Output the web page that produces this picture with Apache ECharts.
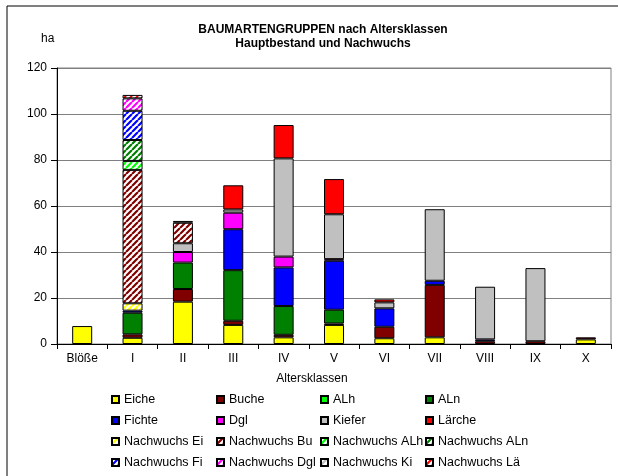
<!DOCTYPE html>
<html>
<head>
<meta charset="utf-8">
<script src="https://cdn.jsdelivr.net/npm/echarts@6/dist/echarts.min.js"></script>
<style>
  html, body { margin: 0; padding: 0; background: #fff; }
  #chart { width: 618px; height: 476px; }
</style>
</head>
<body>
<div id="chart"></div>
<script>
const categories = ["Blöße", "I", "II", "III", "IV", "V", "VI", "VII", "VIII", "IX", "X"];
const yTicks = [0, 20, 40, 60, 80, 100, 120];

// Hauptbestand (ha)
const eiche  = [7.8, 2.7, 18.4, 8.3, 2.9, 8.3, 2.5, 2.9, null, null, 2.0];
const buche  = [null, 1.5, 5.5, 1.8, 1.1, 0.6, 5.0, 22.8, 1.2, 1.2, 0.9];
const alh    = [null, null, null, null, null, null, null, null, null, null, null];
const aln    = [null, 9.4, 11.5, 22.0, 12.5, 6.0, null, null, null, null, null];
const fichte = [null, 0.9, null, 17.8, 16.8, 21.3, 8.0, 1.8, 0.8, null, null];
const dgl    = [null, null, 4.6, 7.2, 4.7, 0.7, null, null, null, null, null];
const kiefer = [null, null, 3.8, 1.4, 42.7, 19.5, 2.6, 31.1, 22.9, 31.8, null];
const laerche = [null, null, null, 10.5, 14.5, 15.3, 1.3, null, null, null, null];

// Nachwuchs (ha)
const nwEi  = [null, 3.2, null, null, null, null, null, null, null, null, null];
const nwBu  = [null, 58.0, 8.9, null, null, null, null, null, null, null, null];
const nwAlh = [null, 3.9, null, null, null, null, null, null, null, null, null];
const nwAln = [null, 9.1, null, null, null, null, null, null, null, null, null];
const nwFi  = [null, 12.7, null, null, null, null, null, null, null, null, null];
const nwDgl = [null, 5.4, null, null, null, null, null, null, null, null, null];
const nwKi  = [null, null, 0.8, null, null, null, null, null, null, null, null];
const nwLae = [null, 1.5, null, null, null, null, null, null, null, null, null];

const font = "Liberation Sans, Arial, sans-serif";

function hatch(color) {
  const c = document.createElement("canvas");
  c.width = 6;
  c.height = 6;
  const g = c.getContext("2d");
  g.fillStyle = "#fff";
  g.fillRect(0, 0, 6, 6);
  g.strokeStyle = color;
  g.lineWidth = 2.2;
  g.beginPath();
  for (const o of [-6, 0, 6]) {
    g.moveTo(o, 6);
    g.lineTo(o + 6, 0);
  }
  g.stroke();
  return { image: c, repeat: "repeat" };
}

const seriesDefs = [
  ["Eiche", eiche, "#FFFF00"],
  ["Buche", buche, "#800000"],
  ["ALh", alh, "#00FF00"],
  ["ALn", aln, "#008000"],
  ["Fichte", fichte, "#0000FF"],
  ["Dgl", dgl, "#FF00FF"],
  ["Kiefer", kiefer, "#C0C0C0"],
  ["Lärche", laerche, "#FF0000"],
  ["Nachwuchs Ei", nwEi, hatch("#FFFF00")],
  ["Nachwuchs Bu", nwBu, hatch("#800000")],
  ["Nachwuchs ALh", nwAlh, hatch("#00FF00")],
  ["Nachwuchs ALn", nwAln, hatch("#008000")],
  ["Nachwuchs Fi", nwFi, hatch("#0000FF")],
  ["Nachwuchs Dgl", nwDgl, hatch("#FF00FF")],
  ["Nachwuchs Ki", nwKi, hatch("#C0C0C0")],
  ["Nachwuchs Lä", nwLae, hatch("#FF0000")]
];

const legendColumns = [
  { left: 111, names: ["Eiche", "Fichte", "Nachwuchs Ei", "Nachwuchs Fi"] },
  { left: 216, names: ["Buche", "Dgl", "Nachwuchs Bu", "Nachwuchs Dgl"] },
  { left: 320, names: ["ALh", "Kiefer", "Nachwuchs ALh", "Nachwuchs Ki"] },
  { left: 425, names: ["ALn", "Lärche", "Nachwuchs ALn", "Nachwuchs Lä"] }
];

const chart = echarts.init(document.getElementById("chart"), null, { renderer: "canvas" });

chart.setOption({
  animation: false,
  backgroundColor: "#fff",
  textStyle: { fontFamily: font, color: "#000" },
  graphic: [
    {
      type: "rect",
      shape: { x: 7, y: 6, width: 700, height: 600 },
      style: { fill: null, stroke: "#000", lineWidth: 1 },
      silent: true
    },
    {
      type: "text",
      x: 323,
      y: 23,
      style: {
        text: "BAUMARTENGRUPPEN nach Altersklassen\nHauptbestand und Nachwuchs",
        fontFamily: font,
        fontSize: 12,
        fontWeight: "bold",
        lineHeight: 14,
        align: "center",
        fill: "#000"
      }
    },
    {
      type: "text",
      x: 41,
      y: 33,
      style: { text: "ha", fontFamily: font, fontSize: 12, fill: "#000" }
    }
  ],
  grid: {
    left: 57,
    right: 7,
    top: 68,
    bottom: 132,
    show: true,
    borderColor: "#808080",
    borderWidth: 1
  },
  legend: legendColumns.map((col) => ({
    orient: "vertical",
    left: col.left,
    top: 392,
    data: col.names,
    itemWidth: 7,
    itemHeight: 7,
    itemGap: 6,
    padding: 0,
    selectedMode: false,
    icon: "rect",
    textStyle: { fontFamily: font, fontSize: 12.5, color: "#000", lineHeight: 15 }
  })),
  xAxis: {
    type: "category",
    data: categories,
    name: "Altersklassen",
    nameLocation: "middle",
    nameGap: 29,
    nameTextStyle: { fontFamily: font, fontSize: 12, color: "#000", padding: [0, 44, 0, 0] },
    axisLine: { lineStyle: { color: "#000", width: 1 } },
    axisTick: { show: true, alignWithLabel: false, length: 5, lineStyle: { color: "#000" } },
    axisLabel: { fontFamily: font, fontSize: 12, color: "#000", margin: 9 },
    splitLine: { show: false }
  },
  yAxis: {
    type: "value",
    min: yTicks[0],
    max: yTicks[yTicks.length - 1],
    interval: 20,
    axisLine: { show: true, lineStyle: { color: "#000", width: 1 } },
    axisTick: { show: true, length: 6, lineStyle: { color: "#000" } },
    axisLabel: { fontFamily: font, fontSize: 12, color: "#000", margin: 10 },
    splitLine: { lineStyle: { color: "#808080", width: 1 } }
  },
  series: seriesDefs.map(([name, data, color]) => ({
    name,
    type: "bar",
    stack: "total",
    barWidth: 20,
    data,
    itemStyle: { color, borderColor: "#000", borderWidth: 1 },
    emphasis: { disabled: true }
  }))
});
</script>
</body>
</html>
